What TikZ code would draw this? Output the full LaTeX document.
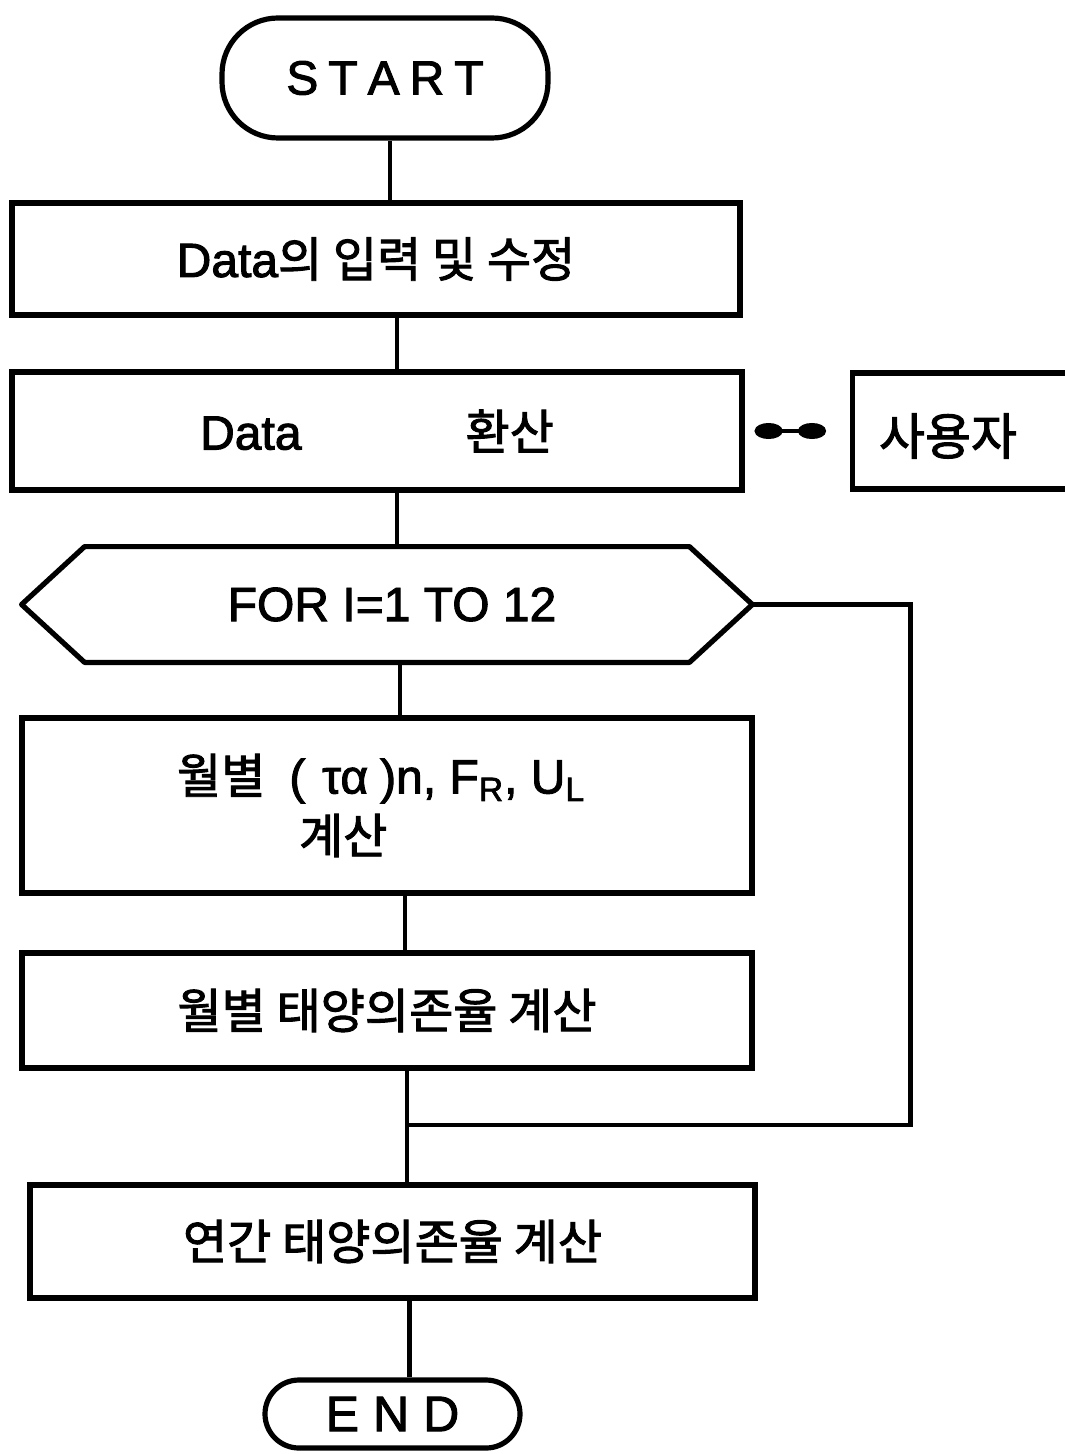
\documentclass[tikz,border=0pt]{standalone}
\usepackage{fontspec}
\setmainfont{Liberation Sans}[FakeBold=2]
\newfontfamily\kr{Noto Sans CJK KR}[FakeBold=2]
\usetikzlibrary{arrows.meta}
\begin{document}
\begin{tikzpicture}[x=0.5pt,y=-0.5pt,
  box/.style={draw,line width=2.6pt,inner sep=0pt,font=\fontsize{24}{28}\selectfont},
  term/.style={box,rounded corners=28pt},
  flow/.style={line width=2.2pt}]
\useasboundingbox (0,0) rectangle (1064,1454);
% nodes
\node[term,minimum width=163pt,minimum height=60pt] (start) at (385,78)
  {S\hspace{5pt}T\hspace{5pt}A\hspace{5pt}R\hspace{5pt}T};
\node[box,minimum width=364pt,minimum height=56pt] (b1) at (376,259)
  {Data{\kr 의 입력 및 수정}};
\node[box,minimum width=365pt,minimum height=59pt] (b2) at (377,431)
  {Data\hspace{82pt}{\kr 환산}};
\node[box,minimum width=115pt,minimum height=58pt,anchor=west] (user) at (850,431) {};
\node[font=\fontsize{25}{28}\selectfont,anchor=west] (usertext) at (872,436) {\kr 사용자};
\node[font=\fontsize{24}{28}\selectfont,inner sep=0pt,minimum width=365pt,minimum height=57.5pt] (for) at (392,604.5)
  {FOR I=1 TO 12};
\draw[line width=2.6pt,line join=round] ([xshift=-2.5pt]for.west) -- ([xshift=29pt]for.north west) -- ([xshift=-34pt]for.north east)
  -- ([xshift=-2.5pt]for.east) -- ([xshift=-34pt]for.south east) -- ([xshift=29pt]for.south west) -- cycle;
\coordinate (fortip) at ([xshift=-2.5pt]for.east);
\node[box,minimum width=365pt,minimum height=87.5pt] (b3) at (387,805.5) {};
\node[font=\fontsize{24}{28}\selectfont,align=left,anchor=west] (b3text) at (170,805.5)
  {{\kr 월별}\hspace{0.5em}(\hspace{0.35em}τα\hspace{0.25em})n, F\textsubscript{R}, U\textsubscript{L}\\[2pt]\hspace*{61pt}{\kr 계산}};
\node[box,minimum width=365pt,minimum height=57.5pt] (b4) at (387,1010.5)
  {\kr 월별 태양의존율 계산};
\node[box,minimum width=362.5pt,minimum height=56.5pt] (b5) at (392.5,1241.5)
  {\kr 연간 태양의존율 계산};
\node[term,rounded corners=17pt,minimum width=127.5pt,minimum height=34pt,font=\fontsize{25}{28}\selectfont] (end) at (392.5,1414)
  {E\hspace{7pt}N\hspace{7pt}D};
\coordinate (merge) at (407,1125);
% connectors
\draw[flow] ([xshift=2.5pt]start.south) -- ([xshift=2.5pt]start.south |- b1.north);
\draw[flow] ([xshift=10.5pt]b1.south) -- ([xshift=10.5pt]b1.south |- b2.north);
\draw[flow] ([xshift=10pt]b2.south) -- ([xshift=10pt]b2.south |- for.north);
\draw[flow] ([xshift=4pt]for.south) -- ([xshift=4pt]for.south |- b3.north);
\draw[flow] ([xshift=9pt]b3.south) -- ([xshift=9pt]b3.south |- b4.north);
\draw[flow] (merge |- b4.south) -- (merge |- b5.north);
\draw[flow] (fortip) -- ++(158,0) |- (merge);
\draw[flow] ([xshift=8.5pt]b5.south) -- ([xshift=8.5pt]b5.south |- end.north);
\draw[flow,{Circle[length=14pt,width=8pt]}-{Circle[length=14pt,width=8pt]}]
  ([xshift=5pt]b2.east) -- ([xshift=-12pt]user.west);
\end{tikzpicture}
\end{document}
